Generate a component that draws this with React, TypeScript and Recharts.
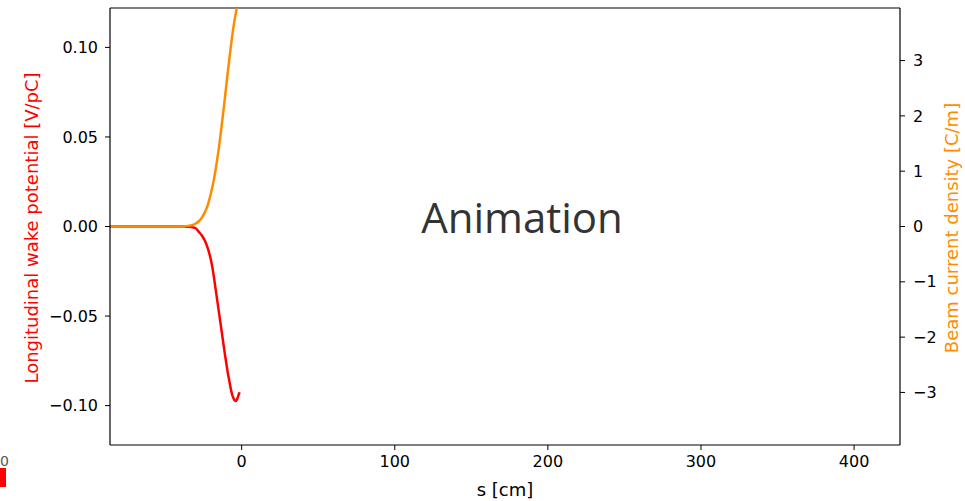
import { Line, LineChart, ReferenceLine, XAxis, YAxis } from 'recharts'

// s position [cm]
const S_VALUES = [
  -86, -70, -60, -50, -45, -40, -37, -34, -32, -30, -28, -26, -24, -22, -21, -20, -19, -18, -17, -16, -15, -14, -13, -12,
  -11, -10, -9, -8, -7, -6, -5, -4, -3, -2, -1.3,
]
// longitudinal wake potential [V/pC]
const WAKE_VALUES = [
  0, 0, 0, 0, 0, 0, -0.0001, -0.0002, -0.0005, -0.001, -0.003, -0.005, -0.008, -0.0125, -0.0155, -0.019, -0.0235,
  -0.029, -0.035, -0.041, -0.047, -0.053, -0.059, -0.065, -0.071, -0.0765, -0.082, -0.0865, -0.091, -0.0945, -0.0965,
  -0.0975, -0.0965, -0.094, -0.0925,
]
// beam current density [C/m]
const CURRENT_VALUES = [
  0, 0, 0, 0, 0, 0.002, 0.006, 0.016, 0.03, 0.055, 0.095, 0.16, 0.26, 0.4, 0.5, 0.61, 0.73, 0.87, 1.03, 1.21, 1.4, 1.61,
  1.84, 2.07, 2.31, 2.56, 2.81, 3.04, 3.27, 3.48, 3.67, 3.83, 3.97, 4.06, 4.11,
]

const X_TICKS = [0, 100, 200, 300, 400]
const WAKE_TICKS = [-0.1, -0.05, 0, 0.05, 0.1]
const CURRENT_TICKS = [-3, -2, -1, 0, 1, 2, 3]

const data = S_VALUES.map((s, i) => ({ s, wake: WAKE_VALUES[i], current: CURRENT_VALUES[i] }))

const FONT = '"DejaVu Sans", sans-serif'
const TICK_STYLE = { fill: '#000', fontSize: 16, fontFamily: FONT }
const AXIS_LINE = { stroke: '#000', strokeWidth: 1.2 }

const minus = (txt: string) => txt.replace('-', '\u2212')

export default function App() {
  return (
    <div style={{ position: 'absolute', left: 0, top: 0, width: 965, height: 501, background: '#fff' }}>
      <LineChart width={965} height={501} data={data} margin={{ top: 8, right: 0, bottom: 0, left: 0 }}>
        <XAxis
          type="number"
          dataKey="s"
          domain={[-86, 430]}
          ticks={X_TICKS}
          allowDataOverflow
          height={56}
          tickSize={5}
          tickMargin={6}
          axisLine={AXIS_LINE}
          tickLine={{ stroke: '#000' }}
          tick={TICK_STYLE}
        />
        <YAxis
          yAxisId="wake"
          type="number"
          domain={[-0.122, 0.122]}
          ticks={WAKE_TICKS}
          allowDataOverflow
          width={110}
          tickSize={5}
          tickMargin={7}
          axisLine={AXIS_LINE}
          tickLine={{ stroke: '#000' }}
          tick={TICK_STYLE}
          tickFormatter={(v: number) => minus(v.toFixed(2))}
        />
        <YAxis
          yAxisId="current"
          orientation="right"
          type="number"
          domain={[-3.95, 3.95]}
          ticks={CURRENT_TICKS}
          allowDataOverflow
          width={65}
          tickSize={5}
          tickMargin={8}
          axisLine={AXIS_LINE}
          tickLine={{ stroke: '#000' }}
          tick={TICK_STYLE}
          tickFormatter={(v: number) => minus(String(v))}
        />
        <ReferenceLine yAxisId="wake" y={0.122} stroke="#000" strokeWidth={1.2} />
        <Line
          yAxisId="wake"
          dataKey="wake"
          type="monotone"
          stroke="#ff0000"
          strokeWidth={2.5}
          dot={false}
          isAnimationActive={false}
        />
        <Line
          yAxisId="current"
          dataKey="current"
          type="monotone"
          stroke="#ff8c00"
          strokeWidth={2.5}
          dot={false}
          isAnimationActive={false}
        />
      </LineChart>
      <svg
        width={965}
        height={501}
        style={{ position: 'absolute', left: 0, top: 0, pointerEvents: 'none' }}
      >
        <text x={522} y={233} textAnchor="middle" fontFamily='"Open Sans", sans-serif' fontSize={42} fill="#333">
          Animation
        </text>
        <text
          transform="translate(31,228) rotate(-90)"
          textAnchor="middle"
          dominantBaseline="central"
          fontFamily={FONT}
          fontSize={18}
          fill="#ff0000"
        >
          Longitudinal wake potential [V/pC]
        </text>
        <text
          transform="translate(951,228) rotate(-90)"
          textAnchor="middle"
          dominantBaseline="central"
          fontFamily={FONT}
          fontSize={18}
          fill="#ff8c00"
        >
          Beam current density [C/m]
        </text>
        <text x={505} y={496} textAnchor="middle" fontFamily={FONT} fontSize={18} fill="#000">
          s [cm]
        </text>
        <text x={0} y={466} fontFamily={FONT} fontSize={14} fill="#555">
          0
        </text>
        <rect x={0} y={468} width={6} height={19} fill="#ff0000" />
      </svg>
    </div>
  )
}
